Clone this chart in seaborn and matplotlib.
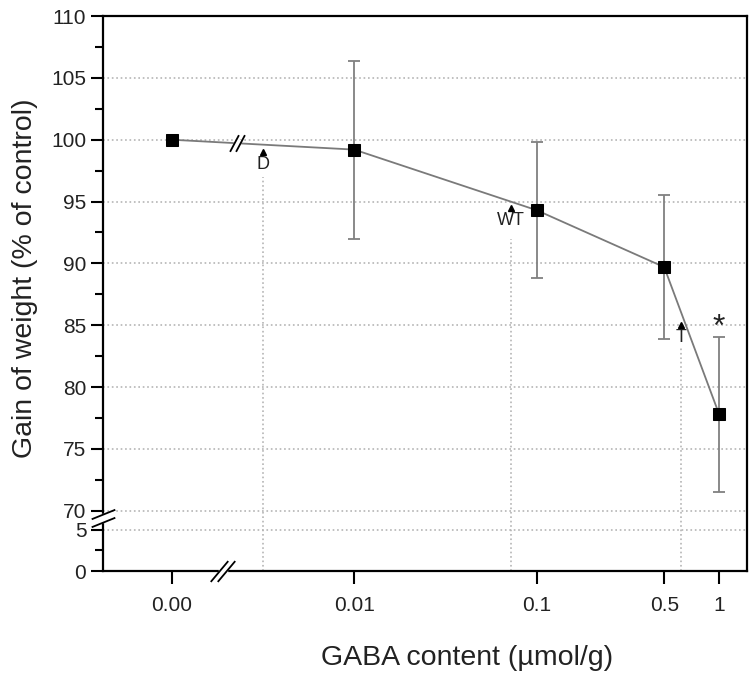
import numpy as np
import matplotlib
matplotlib.use('Agg')
import matplotlib.pyplot as plt
import matplotlib.transforms as mtransforms
from matplotlib.path import Path
from matplotlib.ticker import FixedLocator, NullLocator
import seaborn as sns

# --- data --- #
gaba = [0.0, 0.01, 0.1, 0.5, 1.0]
gaba_labels = ['0.00', '0.01', '0.1', '0.5', '1']
gain = [100.0, 99.2, 94.3, 89.7, 77.8]
gain_sd = [0.0, 7.2, 5.5, 5.85, 6.25]

marks = ['D', 'WT', 'T']
mark_x = [0.005, 0.072, 0.62]
mark_y = [99.0, 94.5, 85.0]
mark_line_top = [97.0, 92.0, 83.3]

y_major = [0, 5, 70, 75, 80, 85, 90, 95, 100, 105, 110]
y_minor = [2.5, 72.5, 77.5, 82.5, 87.5, 92.5, 97.5, 102.5, 107.5]

# --- broken scales --- #
YK = np.array([-100.0, 0.0, 5.0, 70.0, 300.0])
YT = np.array([-66.7, 0.0, 3.33, 4.87, 234.87])


def y_fwd(v):
    return np.interp(v, YK, YT)


def y_inv(t):
    return np.interp(t, YT, YK)


def x_fwd(x):
    x = np.asarray(x, dtype=float)
    lg = np.log10(np.maximum(x, 0.01))
    return np.where(x >= 0.01, lg, x / 0.01 - 3)


def x_inv(t):
    t = np.asarray(t, dtype=float)
    return np.where(t >= -2, np.power(10.0, np.maximum(t, -2)), (t + 3) * 0.01)


def slash(angle):
    a = np.deg2rad(angle)
    return Path([(-np.cos(a), -np.sin(a)), (np.cos(a), np.sin(a))],
                [Path.MOVETO, Path.LINETO])


def draw_break(ax, x, y, trans, angle, size, dx, dy, gap):
    fig = ax.figure
    ax.plot([x], [y], transform=trans, marker='s', ms=gap, color='white',
            mec='white', clip_on=False, zorder=5)
    for s in (-1, 1):
        t = mtransforms.offset_copy(trans, fig=fig, x=s * dx, y=s * dy, units='dots')
        ax.plot([x], [y], transform=t, marker=slash(angle), ms=size, color='black',
                mew=1.3, clip_on=False, zorder=6)


sns.set_theme(style='ticks')
plt.rcParams['font.family'] = ['Liberation Sans', 'DejaVu Sans']

fig = plt.figure(figsize=(7.56, 6.76), dpi=100)
ax = fig.add_axes([0.1362, 0.1553, 0.8518, 0.8210])
ax.set_xscale('function', functions=(x_fwd, x_inv))
ax.set_yscale('function', functions=(y_fwd, y_inv))

ax.errorbar(gaba, gain, yerr=gain_sd, fmt='none', ecolor='#808080',
            elinewidth=1.3, capsize=4.5, capthick=1.3, zorder=3)
sns.lineplot(x=gaba, y=gain, ax=ax, color='#7a7a7a', linewidth=1.3,
             marker='s', markersize=9, markerfacecolor='black',
             markeredgecolor='black', zorder=4)

ax.vlines(mark_x, 0, mark_line_top, colors='#b5b5b5', linestyles=':', linewidth=1.2, zorder=1)
for lab, mx, my in zip(marks, mark_x, mark_y):
    ax.plot([mx], [my], marker='^', ms=4, color='black', zorder=5)
    ax.annotate(lab, (mx, my), xytext=(0, -3), textcoords='offset points',
                ha='center', va='top', fontsize=13, color='#222222')
ax.annotate('*', (gaba[-1], gain[-1] + gain_sd[-1]), xytext=(0, 1),
            textcoords='offset points', ha='center', va='baseline', fontsize=23,
            color='#222222')

ax.set_xlim(-0.00377, 1.42)
ax.set_ylim(0, 110)
ax.set_xticks(gaba)
ax.set_xticklabels(gaba_labels)
ax.xaxis.set_minor_locator(NullLocator())
ax.yaxis.set_major_locator(FixedLocator(y_major))
ax.yaxis.set_minor_locator(FixedLocator(y_minor))
ax.set_yticklabels([str(v) for v in y_major])

ax.yaxis.grid(True, linestyle=':', color='#b5b5b5', linewidth=1.2)
ax.xaxis.grid(False)
ax.set_axisbelow(True)

for sp in ax.spines.values():
    sp.set_linewidth(1.6)
    sp.set_color('black')
ax.tick_params(axis='both', which='major', length=9, width=1.5, labelsize=15,
               color='black', labelcolor='#222222')
ax.tick_params(axis='x', which='major', pad=9)
ax.tick_params(axis='y', which='major', pad=3)
ax.tick_params(axis='y', which='minor', length=5.5, width=1.5, color='black')

ax.set_xlabel('GABA content (µmol/g)', fontsize=20.5, color='#222222')
ax.set_ylabel('Gain of weight (% of control)', fontsize=20.5, color='#222222')
ax.xaxis.set_label_coords(0.565, -0.133)
ax.yaxis.set_label_coords(-0.101, 0.528)

# break marks
draw_break(ax, 0.0028, 0, ax.get_xaxis_transform(), 50, 15, 3.5, 0, 6)
draw_break(ax, 0, 45, ax.get_yaxis_transform(), 22, 17, 0, 4, 6)
draw_break(ax, 0.0036, 99.7, ax.transData, 62, 12, 3, 0, 5)

fig.savefig('out.png', dpi=100)
